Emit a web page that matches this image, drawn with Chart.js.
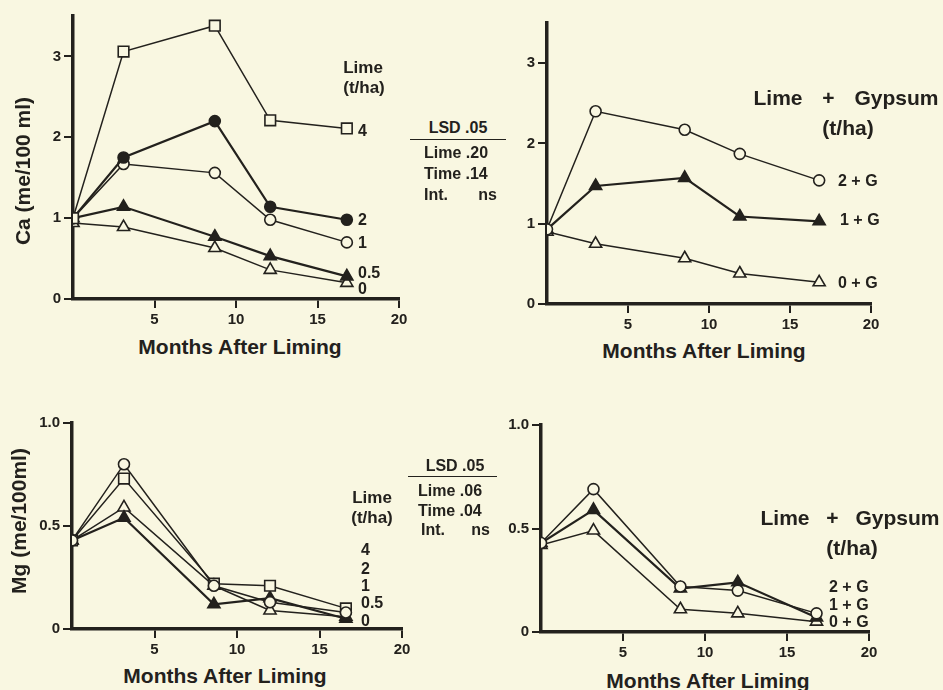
<!DOCTYPE html>
<html>
<head>
<meta charset="utf-8">
<script src="https://cdn.jsdelivr.net/npm/chart.js@4"></script>
<style>
body { margin: 0; width: 943px; height: 690px; overflow: hidden; position: relative;
       background: #f9f7e1; font-family: "Liberation Sans", Arial, sans-serif; color: #23211d; }
canvas { position: absolute; }
.note { position: absolute; white-space: pre; line-height: 1; font-weight: bold; }
.rule { position: absolute; border-top: 1.5px solid #23211d; }
</style>
</head>
<body>
<script>
// === Data ===
const xTicks = [5, 10, 15, 20];
const caTicks = [0, 1, 2, 3];
const mgTicks = [0, 0.5, 1.0];

// Ca, lime only (t/ha)
const caLimeMonths = [0, 3.1, 8.7, 12.1, 16.8];
const caLime4  = [1.00, 3.06, 3.38, 2.21, 2.11];
const caLime2  = [1.00, 1.75, 2.20, 1.14, 0.98];
const caLime1  = [1.00, 1.67, 1.56, 0.98, 0.70];
const caLime05 = [1.00, 1.14, 0.77, 0.53, 0.28];
const caLime0  = [0.94, 0.89, 0.63, 0.36, 0.20];

// Ca, lime + gypsum
const caGypMonths = [0, 3.0, 8.5, 11.9, 16.8];
const caGyp2 = [0.93, 2.40, 2.17, 1.87, 1.54];
const caGyp1 = [0.93, 1.47, 1.57, 1.09, 1.03];
const caGyp0 = [0.90, 0.75, 0.57, 0.38, 0.27];

// Mg, lime only
const mgLimeMonths = [0, 3.15, 8.6, 12.0, 16.6];
const mgLime4  = [0.43, 0.73, 0.22, 0.21, 0.10];
const mgLime1  = [0.43, 0.80, 0.21, 0.13, 0.08];
const mgLime05 = [0.43, 0.54, 0.12, 0.15, 0.05];
const mgLime0  = [0.43, 0.59, 0.21, 0.09, 0.06];

// Mg, lime + gypsum
const mgGypMonths = [0, 3.2, 8.5, 12.0, 16.8];
const mgGyp2 = [0.43, 0.69, 0.22, 0.20, 0.09];
const mgGyp1 = [0.43, 0.59, 0.21, 0.24, 0.07];
const mgGyp0 = [0.42, 0.49, 0.11, 0.09, 0.05];

// === Style ===
const INK = '#23211d';
const BG = '#f9f7e1';
Chart.defaults.font.family = '"Liberation Sans", Arial, sans-serif';

const MARK = {
    openSquare:  { pointStyle: 'rect',     pointRadius: 7.5, fill: false, line: 1.5 },
    openCircle:  { pointStyle: 'circle',   pointRadius: 5.5, fill: false, line: 1.5 },
    fullCircle:  { pointStyle: 'circle',   pointRadius: 5.5, fill: true,  line: 2.2 },
    openTri:     { pointStyle: 'triangle', pointRadius: 7,   fill: false, line: 1.5 },
    fullTri:     { pointStyle: 'triangle', pointRadius: 7,   fill: true,  line: 2.2 },
};

// area = where the plot box should land on the page
function panel(area, months, series, yMax, yTicks, yFmt) {
    const padL = 45, padB = 34, padT = 12, padR = 24;
    const cv = document.createElement('canvas');
    cv.width = area.right - area.left + padL + padR;
    cv.height = area.bottom - area.top + padT + padB;
    cv.style.left = (area.left - padL) + 'px';
    cv.style.top = (area.top - padT) + 'px';
    document.body.appendChild(cv);

    const datasets = series.map(s => {
        const m = MARK[s.mark];
        return {
            data: months.map((x, i) => ({ x, y: s.values[i] })),
            borderColor: INK,
            borderWidth: m.line,
            pointStyle: m.pointStyle,
            pointRadius: m.pointRadius,
            pointBorderWidth: 1.6,
            pointBorderColor: INK,
            pointBackgroundColor: m.fill ? INK : BG,
            tension: 0,
        };
    });

    const axis = (ticks, fmt, fitKey, fitVal) => ({
        type: 'linear',
        afterBuildTicks: sc => { sc.ticks = ticks.map(v => ({ value: v })); },
        afterFit: sc => { sc[fitKey] = fitVal; },
        grid: { drawOnChartArea: false, drawTicks: true, tickLength: 9, color: INK, lineWidth: 2 },
        border: { display: true, width: 3.5, color: INK },
        ticks: { color: INK, font: { size: 15, weight: 'bold' }, padding: 3, maxRotation: 0, callback: fmt },
    });

    new Chart(cv, {
        type: 'line',
        data: { datasets },
        options: {
            responsive: false,
            animation: false,
            layout: { padding: { top: padT, right: padR, left: 0, bottom: 0 } },
            plugins: { legend: { display: false }, tooltip: { enabled: false } },
            scales: {
                x: { ...axis(xTicks, v => String(v), 'height', padB), min: 0, max: 20 },
                y: { ...axis(yTicks, yFmt, 'width', padL), min: 0, max: yMax },
            }
        }
    });
}

const intFmt = v => String(v);
const mgFmt = v => v === 0 ? '0' : v.toFixed(1);

panel({ left: 73, right: 399, top: 16, bottom: 299 }, caLimeMonths, [
    { mark: 'openSquare', values: caLime4 },
    { mark: 'fullCircle', values: caLime2 },
    { mark: 'openCircle', values: caLime1 },
    { mark: 'fullTri',    values: caLime05 },
    { mark: 'openTri',    values: caLime0 },
], 3.5, caTicks, intFmt);

panel({ left: 547, right: 871, top: 23, bottom: 304 }, caGypMonths, [
    { mark: 'openCircle', values: caGyp2 },
    { mark: 'fullTri',    values: caGyp1 },
    { mark: 'openTri',    values: caGyp0 },
], 3.5, caTicks, intFmt);

panel({ left: 72, right: 402, top: 423, bottom: 629 }, mgLimeMonths, [
    { mark: 'openCircle', values: mgLime1 },
    { mark: 'openSquare', values: mgLime4 },
    { mark: 'fullTri',    values: mgLime05 },
    { mark: 'openTri',    values: mgLime0 },
], 1.0, mgTicks, mgFmt);

panel({ left: 541, right: 869, top: 425, bottom: 632 }, mgGypMonths, [
    { mark: 'openCircle', values: mgGyp2 },
    { mark: 'fullTri',    values: mgGyp1 },
    { mark: 'openTri',    values: mgGyp0 },
], 1.0, mgTicks, mgFmt);

// === Text ===
function note(text, x, y, size, anchor = 'c', extra = '', wordGap = 0) {
    const d = document.createElement('div');
    d.className = 'note';
    d.textContent = text;
    const tx = anchor === 'l' ? '0' : anchor === 'r' ? '-100%' : '-50%';
    d.style.left = x + 'px';
    d.style.top = y + 'px';
    d.style.fontSize = size + 'px';
    d.style.wordSpacing = wordGap + 'px';
    d.style.transform = `translate(${tx}, -50%) ${extra}`;
    document.body.appendChild(d);
}
function rule(x1, x2, y) {
    const d = document.createElement('div');
    d.className = 'rule';
    d.style.left = x1 + 'px';
    d.style.top = y + 'px';
    d.style.width = (x2 - x1) + 'px';
    document.body.appendChild(d);
}

// top left
note('Ca (me/100 ml)', 22, 171, 21, 'c', 'rotate(-90deg)');
note('Months After Liming', 240, 346, 21);
note('Lime', 363, 67, 17);
note('(t/ha)', 364, 87, 17);
note('4', 358, 131, 16, 'l');
note('2', 358, 220, 16, 'l');
note('1', 358, 243, 16, 'l');
note('0.5', 358, 273, 16, 'l');
note('0', 358, 289, 16, 'l');

// top LSD
note('LSD .05', 458, 128, 16);
rule(410, 506, 139);
note('Lime .20', 424, 153, 16, 'l');
note('Time .14', 424, 174, 16, 'l');
note('Int.', 424, 195, 16, 'l');
note('ns', 497, 195, 16, 'r');

// top right
note('Lime + Gypsum', 846, 97, 21, 'c', '', 14);
note('(t/ha)', 848, 127, 21);
note('2 + G', 838, 181, 16, 'l');
note('1 + G', 840, 220, 16, 'l');
note('0 + G', 838, 283, 16, 'l');
note('Months After Liming', 704, 350, 21);

// bottom left
note('Mg (me/100ml)', 18, 521, 21, 'c', 'rotate(-90deg)');
note('Months After Liming', 225, 675, 21);
note('Lime', 372, 497, 17);
note('(t/ha)', 372, 517, 17);
note('4', 361, 550, 16, 'l');
note('2', 361, 569, 16, 'l');
note('1', 361, 586, 16, 'l');
note('0.5', 361, 603, 16, 'l');
note('0', 361, 621, 16, 'l');

// bottom LSD
note('LSD .05', 455, 466, 16);
rule(408, 497, 476);
note('Lime .06', 418, 491, 16, 'l');
note('Time .04', 418, 511, 16, 'l');
note('Int.', 421, 530, 16, 'l');
note('ns', 490, 530, 16, 'r');

// bottom right
note('Lime + Gypsum', 850, 517, 21, 'c', '', 11);
note('(t/ha)', 852, 547, 21);
note('2 + G', 829, 587, 16, 'l');
note('1 + G', 829, 605, 16, 'l');
note('0 + G', 829, 622, 16, 'l');
note('Months After Liming', 708, 680, 21);
</script>
</body>
</html>
